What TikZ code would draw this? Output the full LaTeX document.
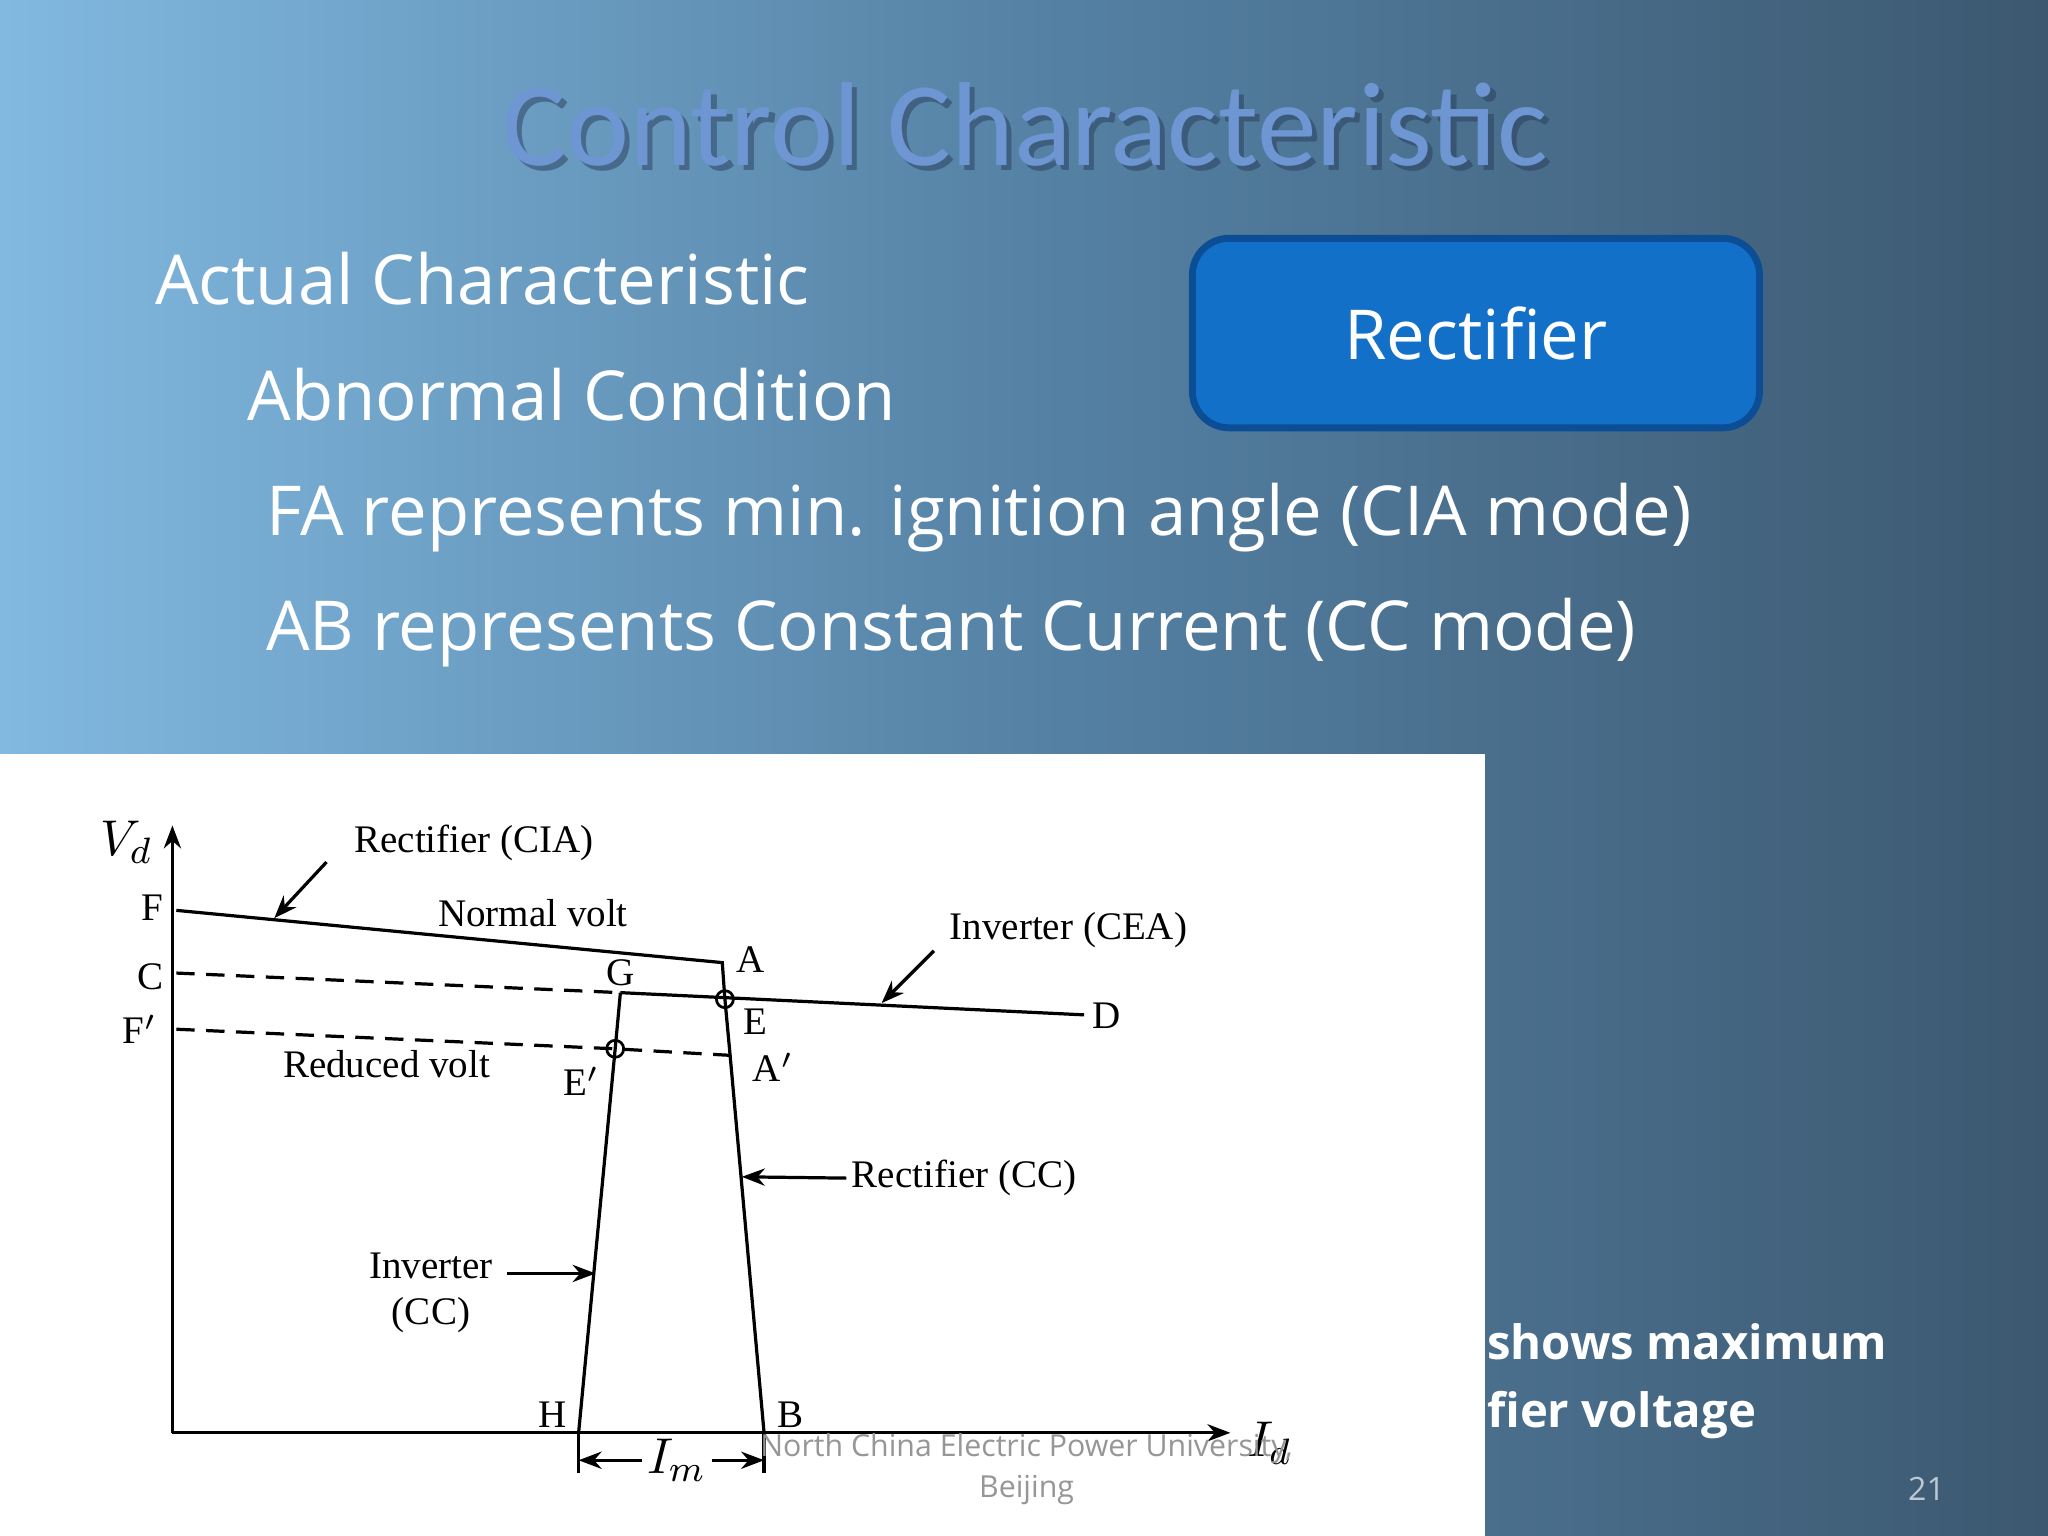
\documentclass[tikz,border=0pt]{standalone}
\usepackage{fontspec}
\setmainfont{Open Sans}
\newfontfamily\tfont{Carlito}
\newfontfamily\dfont{Liberation Serif}
\usetikzlibrary{arrows.meta}
\begin{document}
\begin{tikzpicture}[x=0.01cm,y=-0.01cm,
  body/.style={text=white,anchor=base west,inner sep=0pt,font=\fontsize{15}{18}\selectfont},
  lab/.style={font=\dfont\fontsize{8.5}{10}\selectfont,inner sep=1pt},
  ln/.style={line width=0.7pt,black},
  dsh/.style={ln,dash pattern=on 4pt off 2.5pt},
  arr/.style={ln,-{Stealth[length=5pt]}},
  circ/.style={circle,draw,black,line width=0.6pt,minimum size=0.13cm,inner sep=0pt}]
\useasboundingbox (0,0) rectangle (1568,1176);
\shade[left color={rgb,255:red,130;green,185;blue,224},right color={rgb,255:red,60;green,88;blue,112},middle color={rgb,255:red,85;green,130;blue,165}] (0,0) rectangle (1568,1176);
\node[text={rgb,255:red,40;green,60;blue,90},opacity=0.5] (tsh) at (789,99) {\tfont\fontsize{26}{30}\selectfont Control Characteristic};
\node (title) at (785,95) {\tfont\fontsize{26}{30}\selectfont\color[RGB]{110,150,210}Control Characteristic};
\node[body] (t1) at (118,233) {Actual Characteristic};
\node[body] (t2) at (189,322) {Abnormal Condition};
\node[body] (t3) at (203,410) {FA represents min. ignition angle (CIA mode)};
\node[body] (t4) at (203,498) {AB represents Constant Current (CC mode)};
\node[draw={rgb,255:red,12;green,78;blue,150},line width=1.5pt,fill={rgb,255:red,18;green,112;blue,200},rounded corners=8pt,minimum width=4.34cm,minimum height=1.45cm,text=white,font=\fontsize{15}{19}\selectfont] (rect) at (1130,255) {Rectifier};
\node[body,font=\bfseries\fontsize{10.3}{14}\selectfont] (b1) at (1138,1041) {shows maximum};
\node[body,font=\bfseries\fontsize{10.3}{14}\selectfont] (b2) at (1138,1093) {fier voltage};
\fill[white] (0,577) rectangle (1137,1176);
% diagram
\coordinate (O) at (132,1097);
\coordinate (Ytop) at (132,632);
\coordinate (Xend) at (942,1097);
\draw[arr] (O) -- (Ytop);
\draw[arr] (O) -- (Xend);
\node[lab,font=\dfont\itshape\fontsize{11}{12}\selectfont] (vd) at (97,645) {$V_d$};
\node[lab,font=\dfont\itshape\fontsize{11}{12}\selectfont] (id) at (972,1105) {$I_d$};
\coordinate (F) at (135,697);
\coordinate (A) at (553,737);
\coordinate (E) at (555,765);
\coordinate (Ap) at (559,808);
\coordinate (B) at (585,1097);
\coordinate (C) at (135,745);
\coordinate (G) at (475,760);
\coordinate (D) at (830,777);
\coordinate (Fp) at (135,788);
\coordinate (Ep) at (471,803);
\coordinate (H) at (443,1097);
\draw[ln] (F) -- (A) -- (E) -- (Ap) -- (B);
\draw[dsh] (C) -- (G);
\draw[ln] (G) -- (D);
\draw[dsh] (Fp) -- (Ep) -- (Ap);
\draw[ln] (G) -- (Ep) -- (H);
\node[circ] (ce) at (E) {};
\node[circ] (cep) at (Ep) {};
\node[lab] at (117,695) {F};
\node[lab] at (115,748) {C};
\node[lab] at (107,788) {F$'$};
\node[lab] at (575,735) {A};
\node[lab] at (475,745) {G};
\node[lab] at (578,782) {E};
\node[lab] at (445,828) {E$'$};
\node[lab] at (592,817) {A$'$};
\node[lab] at (847,778) {D};
\node[lab] at (423,1083) {H};
\node[lab] at (605,1083) {B};
\node[lab] (rcia) at (363,645) {Rectifier (CIA)};
\coordinate (rciaa) at (250,660);
\coordinate (rciab) at (210,703);
\draw[arr] (rciaa) -- (rciab);
\node[lab] at (408,699) {Normal volt};
\node[lab] (icea) at (818,712) {Inverter (CEA)};
\coordinate (iceaa) at (715,728);
\coordinate (iceab) at (675,768);
\draw[arr] (iceaa) -- (iceab);
\node[lab] at (296,815) {Reduced volt};
\node[lab,anchor=west] (rcc) at (648,902) {Rectifier (CC)};
\coordinate (rcct) at (568,901);
\draw[arr] (rcc.west) -- (rcct);
\node[lab,align=center] (icc) at (330,990) {Inverter\\(CC)};
\coordinate (icca) at (388,975);
\coordinate (iccb) at (456,975);
\draw[arr] (icca) -- (iccb);
\coordinate (Ht) at (443,1128);
\coordinate (Bt) at (585,1128);
\draw[ln] (H) -- (Ht);
\draw[ln] (B) -- (Bt);
\node[lab,font=\dfont\itshape\fontsize{11}{12}\selectfont,fill=white] (im) at (518,1118) {$I_m$};
\draw[arr] (im.west) -- (443,1118);
\draw[arr] (im.east) -- (585,1118);
\node[text={rgb,255:red,150;green,150;blue,150},align=center,font=\fontsize{6.6}{9}\selectfont] (foot) at (786,1125) {North China Electric Power University,\\Beijing};
\node[text={rgb,255:red,190;green,200;blue,210},font=\fontsize{7}{10}\selectfont] (pg) at (1475,1140) {21};
\end{tikzpicture}
\end{document}
